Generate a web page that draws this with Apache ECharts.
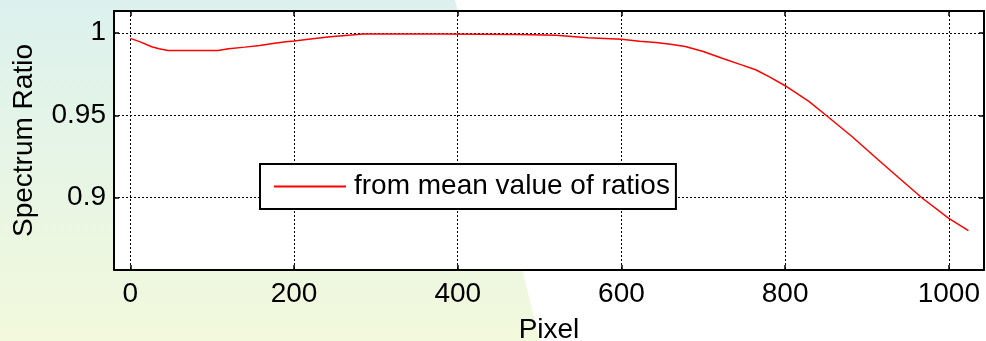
<!DOCTYPE html>
<html>
<head>
<meta charset="utf-8">
<script src="https://cdn.jsdelivr.net/npm/echarts@6/dist/echarts.min.js"></script>
<style>
  html, body { margin: 0; padding: 0; background: #ffffff; }
  #chart { width: 986px; height: 341px; }
</style>
</head>
<body>
<div id="chart"></div>
<script>
// Spectrum ratio per detector pixel
const pixel = [0, 12, 26, 35, 46, 75, 107, 120, 140, 158, 176, 190, 200, 220, 244, 270, 284, 380, 476, 520, 559, 600, 622, 642, 660, 678, 700, 723, 744, 764, 782, 800, 829, 850, 882, 914, 935, 967, 1000, 1024];
const ratio = [0.9966, 0.9945, 0.9915, 0.9903, 0.9893, 0.9892, 0.9893, 0.9903, 0.9913, 0.9923, 0.9936, 0.9946, 0.9950, 0.9962, 0.9976, 0.9986, 0.9992, 0.9993, 0.9990, 0.9985, 0.9970, 0.9961, 0.9948, 0.9941, 0.9931, 0.9917, 0.9886, 0.9846, 0.9810, 0.9776, 0.9730, 0.9679, 0.9584, 0.9500, 0.9370, 0.9229, 0.9138, 0.9000, 0.8875, 0.8800];
const seriesName = 'from mean value of ratios';
const xTicks = [0, 200, 400, 600, 800, 1000];
const yTicks = [0.9, 0.95, 1];

const X_MIN = -20, X_MAX = 1043;
const Y_MIN = 0.8562, Y_MAX = 1.0132;
const FONT = '"Liberation Sans", Arial, sans-serif';

const chart = echarts.init(document.getElementById('chart'));

const gridLine = { show: true, lineStyle: { color: '#000', width: 1, type: [2, 2] } };
const frameLine = { show: true, onZero: false, lineStyle: { color: '#000', width: 2 } };
const tick = { show: true, inside: true, length: 5, lineStyle: { color: '#000', width: 1.5 } };

function xAxisDef(pos, main) {
  return {
    type: 'value', position: pos, min: X_MIN, max: X_MAX,
    axisLine: frameLine,
    axisTick: Object.assign({}, tick, { customValues: xTicks }),
    splitLine: main ? gridLine : { show: false },
    axisLabel: main ? {
      show: true, customValues: xTicks, margin: 10,
      color: '#000', fontSize: 28, fontFamily: FONT,
      formatter: v => String(v)
    } : { show: false },
    name: main ? 'Pixel' : '',
    nameLocation: 'middle', nameGap: 46,
    nameTextStyle: { color: '#000', fontSize: 28, fontFamily: FONT }
  };
}
function yAxisDef(pos, main) {
  return {
    type: 'value', position: pos, min: Y_MIN, max: Y_MAX,
    axisLine: frameLine,
    axisTick: Object.assign({}, tick, { customValues: yTicks }),
    splitLine: main ? gridLine : { show: false },
    axisLabel: main ? {
      show: true, customValues: yTicks, margin: 8,
      color: '#000', fontSize: 28, fontFamily: FONT,
      formatter: v => String(Math.round(v * 100) / 100)
    } : { show: false },
    name: main ? 'Spectrum Ratio' : '',
    nameLocation: 'middle', nameGap: 76,
    nameTextStyle: { color: '#000', fontSize: 28, fontFamily: FONT }
  };
}

chart.setOption({
  backgroundColor: '#ffffff',
  animation: false,
  graphic: [{
    type: 'polygon', z: -10, silent: true,
    shape: { points: [[0, 0], [455, 0], [540, 341], [0, 341]] },
    style: {
      fill: new echarts.graphic.LinearGradient(0, 0, 0, 1, [
        { offset: 0, color: '#dcf1ee' },
        { offset: 1, color: '#f2f9dc' }
      ])
    }
  }],
  grid: {
    left: 114, right: 2, top: 11, bottom: 71,
    outerBoundsMode: 'none', containLabel: false,
    show: true, backgroundColor: '#ffffff', borderWidth: 0
  },
  xAxis: [xAxisDef('bottom', true), xAxisDef('top', false)],
  yAxis: [yAxisDef('left', true), yAxisDef('right', false)],
  legend: {
    left: 260, top: 164,
    orient: 'horizontal',
    padding: [8, 6, 8, 14],
    backgroundColor: '#ffffff',
    borderColor: '#000', borderWidth: 2, borderRadius: 0,
    itemWidth: 72, itemHeight: 2,
    icon: 'rect',
    data: [{ name: seriesName, icon: 'rect' }],
    itemStyle: { color: '#ff0000' },
    textStyle: { color: '#000', fontSize: 28, fontFamily: FONT, padding: [0, 0, 0, 3], lineHeight: 29 }
  },
  series: [{
    name: seriesName,
    type: 'line',
    xAxisIndex: 0, yAxisIndex: 0,
    data: pixel.map((p, i) => [p, ratio[i]]),
    showSymbol: false, symbol: 'none',
    lineStyle: { color: '#ff0000', width: 1.5 },
    itemStyle: { color: '#ff0000' }
  }]
});
</script>
</body>
</html>
